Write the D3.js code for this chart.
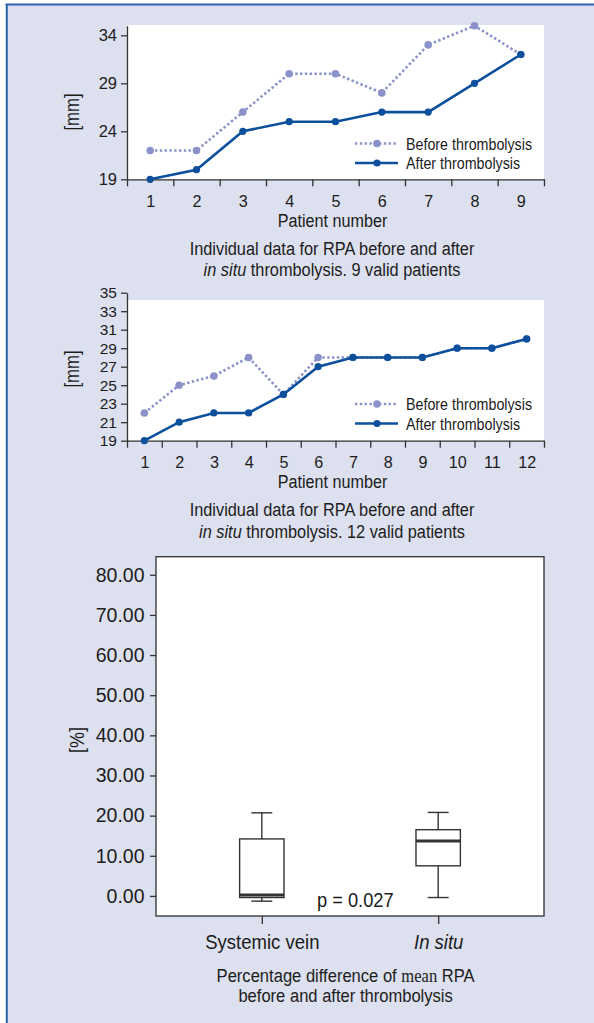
<!DOCTYPE html>
<html>
<head>
<meta charset="utf-8">
<script src="https://cdn.jsdelivr.net/npm/d3@7"></script>
<style>
  html, body { margin: 0; padding: 0; background: #fff; }
  svg { display: block; }
</style>
</head>
<body>
<div id="chart"></div>
<script>
// panel A: 9 valid patients
const patientsA = [1, 2, 3, 4, 5, 6, 7, 8, 9]
const beforeA = [22, 22, 26, 30, 30, 28, 33, 35, 32]
const afterA = [19, 20, 24, 25, 25, 26, 26, 29, 32]
const yTicksA = [19, 24, 29, 34]

// panel B: 12 valid patients
const patientsB = [1, 2, 3, 4, 5, 6, 7, 8, 9, 10, 11, 12]
const beforeB = [22, 25, 26, 28, 24, 28, 28, 28, 28, 29, 29, 30]
const afterB = [19, 21, 22, 22, 24, 27, 28, 28, 28, 29, 29, 30]
const yTicksB = [19, 21, 23, 25, 27, 29, 31, 33, 35]

// panel C: box plot of percentage difference
const groups = ['Systemic vein', 'In situ']
const whiskerLow = [-1.3, -0.4]
const q1 = [-0.4, 7.5]
const median = [0.2, 13.7]
const q3 = [14.2, 16.5]
const whiskerHigh = [20.7, 20.8]
const yTicksC = [0, 10, 20, 30, 40, 50, 60, 70, 80]

const W = 594, H = 1023
const SANS = '"Liberation Sans", Arial, Helvetica, sans-serif'
const SERIF = '"Liberation Serif", "Times New Roman", serif'
const BEFORE_COLOR = '#8a92c9'
const AFTER_COLOR = '#0c4f9c'
const TEXT = '#1c1c1c'

const svg = d3.select('#chart').append('svg')
  .attr('width', W).attr('height', H)

// frame
svg.append('rect').attr('x', 6).attr('y', 4).attr('width', W - 6).attr('height', H - 4)
  .attr('fill', '#dde0ef')
svg.append('line').attr('x1', 5.5).attr('x2', W).attr('y1', 4.5).attr('y2', 4.5)
  .attr('stroke', '#2b62a9').attr('stroke-width', 1.8)
svg.append('line').attr('x1', 6.8).attr('x2', 6.8).attr('y1', 4).attr('y2', H)
  .attr('stroke', '#2b62a9').attr('stroke-width', 2)

const styleAxis = (g, size) => {
  g.attr('font-size', size).attr('font-family', SANS)
  g.selectAll('text').attr('fill', TEXT)
  g.selectAll('line, path').attr('stroke', '#333').attr('stroke-width', 1.3)
}

// condensed-looking text: a scaled group holding a text
const label = (x, y, size, k, opts = {}) => {
  const g = svg.append('g')
    .attr('transform', `translate(${x},${y}) rotate(${opts.rotate || 0}) scale(${k},1)`)
  return g.append('text').attr('font-family', SANS).attr('font-size', size)
    .attr('fill', TEXT).attr('text-anchor', opts.anchor || 'middle')
}

const linePanel = (opts) => {
  const {patients, before, after, yTicks, top, bottom, plotTop, legendY, captionY, count, tickFont} = opts
  const left = 127, right = 544

  const x = d3.scaleLinear()
    .domain([patients[0] - 0.5, patients[patients.length - 1] + 0.5])
    .range([left, right])
  const y = d3.scaleLinear().domain([19, 35]).range([bottom, top])

  // white plot area
  svg.append('rect').attr('x', left).attr('y', plotTop)
    .attr('width', right - left).attr('height', bottom - plotTop)
    .attr('fill', '#fff')

  // y axis
  const gy = svg.append('g').attr('transform', `translate(${left},0)`)
    .call(d3.axisLeft(y).tickValues(yTicks).tickSize(6).tickPadding(4).tickSizeOuter(0))
  styleAxis(gy, tickFont)

  // x axis: ticks at the boundaries, labels at the patients
  const bounds = patients.map(p => p - 0.5).concat(patients[patients.length - 1] + 0.5)
  const gx = svg.append('g').attr('transform', `translate(0,${bottom})`)
    .call(d3.axisBottom(x).tickValues(bounds).tickFormat('').tickSize(7).tickSizeOuter(0))
  styleAxis(gx, 16.5)
  const gl = svg.append('g').attr('transform', `translate(0,${bottom})`)
    .call(d3.axisBottom(x).tickValues(patients).tickFormat(d3.format('d')).tickSize(0).tickPadding(15.2))
  gl.select('.domain').remove()
  styleAxis(gl, 17)
  gl.selectAll('text').attr('transform', 'scale(0.95,1)')

  // axis titles
  label((left + right) / 2 - 3, bottom + 47.4, 18.8, 0.86).text('Patient number')
  label(79, opts.yLabel, 19.5, 0.86, {rotate: -90}).text('[mm]')

  // series
  const line = d3.line().x(d => x(d.p)).y(d => y(d.v))
  const beforeData = patients.map((p, i) => ({p, v: before[i]}))
  const afterData = patients.map((p, i) => ({p, v: after[i]}))

  svg.append('path').datum(beforeData).attr('d', line)
    .attr('fill', 'none').attr('stroke', BEFORE_COLOR).attr('stroke-width', 2.6)
    .attr('stroke-dasharray', '2.4,2.4')
  svg.append('g').selectAll('circle').data(beforeData).enter().append('circle')
    .attr('cx', d => x(d.p)).attr('cy', d => y(d.v)).attr('r', 3.8).attr('fill', BEFORE_COLOR)

  svg.append('path').datum(afterData).attr('d', line)
    .attr('fill', 'none').attr('stroke', AFTER_COLOR).attr('stroke-width', 2.6)
  svg.append('g').selectAll('circle').data(afterData).enter().append('circle')
    .attr('cx', d => x(d.p)).attr('cy', d => y(d.v)).attr('r', 3.6).attr('fill', AFTER_COLOR)

  // legend
  const lg = svg.append('g').attr('transform', `translate(355,${legendY})`)
  lg.append('line').attr('x1', 0).attr('x2', 43).attr('y1', 0).attr('y2', 0)
    .attr('stroke', BEFORE_COLOR).attr('stroke-width', 2.6).attr('stroke-dasharray', '2.4,2.4')
  lg.append('circle').attr('cx', 22).attr('cy', 0).attr('r', 3.8).attr('fill', BEFORE_COLOR)
  lg.append('line').attr('x1', 0).attr('x2', 43).attr('y1', 19.5).attr('y2', 19.5)
    .attr('stroke', AFTER_COLOR).attr('stroke-width', 2.6)
  lg.append('circle').attr('cx', 22).attr('cy', 19.5).attr('r', 3.6).attr('fill', AFTER_COLOR)
  const legendNames = ['Before thrombolysis', 'After thrombolysis']
  legendNames.forEach((name, i) => {
    label(406, legendY + i * 19.5 + 6, 16.6, 0.86, {anchor: 'start'}).text(name)
  })

  // caption
  label(332, captionY, 19, 0.86).text('Individual data for RPA before and after')
  const c2 = label(332, captionY + 21.8, 19, 0.86)
  c2.append('tspan').attr('font-style', 'italic').text('in situ')
  c2.append('tspan').text(` thrombolysis. ${count} valid patients`)
}

linePanel({
  patients: patientsA, before: beforeA, after: afterA, yTicks: yTicksA,
  top: 25.7, bottom: 179.3, plotTop: 25, legendY: 143.5, captionY: 254.5,
  yLabel: 112, count: 9, tickFont: 16.5
})

linePanel({
  patients: patientsB, before: beforeB, after: afterB, yTicks: yTicksB,
  top: 292.7, bottom: 440.7, plotTop: 300, legendY: 404, captionY: 516,
  yLabel: 369, count: 12, tickFont: 15.5
})

// box plot panel
const boxLeft = 156, boxRight = 544, boxTop = 556.7, boxBottom = 916
const yc = d3.scaleLinear().domain([-5, 84.5]).range([boxBottom, boxTop])
const xc = d3.scalePoint().domain(groups).range([boxLeft, boxRight]).padding(0.6)

svg.append('rect').attr('x', boxLeft).attr('y', boxTop)
  .attr('width', boxRight - boxLeft).attr('height', boxBottom - boxTop)
  .attr('fill', '#fff').attr('stroke', '#3c3c3c').attr('stroke-width', 1.4)

const gyc = svg.append('g').attr('transform', `translate(${boxLeft},0)`)
  .call(d3.axisLeft(yc).tickValues(yTicksC).tickFormat(d3.format('.2f')).tickSize(6).tickPadding(5.5))
gyc.select('.domain').remove()
styleAxis(gyc, 19.5)

const gxc = svg.append('g').attr('transform', `translate(0,${boxBottom})`)
  .call(d3.axisBottom(xc).tickSize(8).tickPadding(10.5))
gxc.select('.domain').remove()
styleAxis(gxc, 20.6)
gxc.selectAll('text')
  .attr('font-style', d => d === 'In situ' ? 'italic' : 'normal')
  .attr('transform', 'scale(0.9,1)')

const boxes = groups.map((g, i) => ({
  g, lo: whiskerLow[i], q1: q1[i], med: median[i], q3: q3[i], hi: whiskerHigh[i]
}))
const halfW = 22.2, capW = 10.5
const bg = svg.append('g').attr('stroke', '#333').attr('fill', 'none').attr('stroke-width', 1.4)
  .selectAll('g').data(boxes).enter().append('g')
bg.append('line').attr('x1', d => xc(d.g)).attr('x2', d => xc(d.g))
  .attr('y1', d => yc(d.hi)).attr('y2', d => yc(d.q3))
bg.append('line').attr('x1', d => xc(d.g)).attr('x2', d => xc(d.g))
  .attr('y1', d => yc(d.q1)).attr('y2', d => yc(d.lo))
bg.append('line').attr('x1', d => xc(d.g) - capW).attr('x2', d => xc(d.g) + capW)
  .attr('y1', d => yc(d.hi)).attr('y2', d => yc(d.hi))
bg.append('line').attr('x1', d => xc(d.g) - capW).attr('x2', d => xc(d.g) + capW)
  .attr('y1', d => yc(d.lo)).attr('y2', d => yc(d.lo))
bg.append('rect').attr('x', d => xc(d.g) - halfW).attr('width', halfW * 2)
  .attr('y', d => yc(d.q3)).attr('height', d => yc(d.q1) - yc(d.q3))
bg.append('line').attr('x1', d => xc(d.g) - halfW).attr('x2', d => xc(d.g) + halfW)
  .attr('y1', d => yc(d.med)).attr('y2', d => yc(d.med)).attr('stroke-width', 3)

label(317, 907, 20.3, 0.9, {anchor: 'start'}).text('p = 0.027')
label(84, 740, 20, 0.9, {rotate: -90}).text('[%]')

const l1 = label(345.6, 982, 18.4, 0.9)
l1.append('tspan').text('Percentage difference of ')
l1.append('tspan').attr('font-family', SERIF).text('mean')
l1.append('tspan').text(' RPA')
label(345.6, 1002, 18.4, 0.9).text('before and after thrombolysis')
</script>
</body>
</html>
